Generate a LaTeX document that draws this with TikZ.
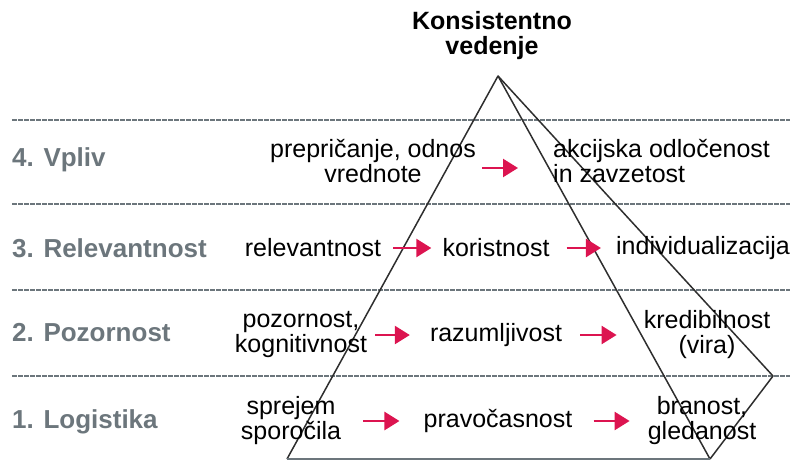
\documentclass[tikz,border=0pt]{standalone}
\usepackage{fontspec}
\setmainfont{Liberation Sans}
\usetikzlibrary{arrows.meta}

\definecolor{levelgrey}{HTML}{6C767C}
\definecolor{arrowred}{HTML}{DC1450}
\definecolor{edgegrey}{HTML}{2E2E2E}

\begin{document}
\begin{tikzpicture}[
  x=1pt, y=-1pt,
  every node/.style={inner sep=0pt, text=black, font=\fontsize{25}{25}\selectfont}, % plain text nodes
  level/.style={anchor=west, text=levelgrey, font=\fontsize{26}{26}\selectfont\bfseries}, % left level labels
  sepline/.style={draw=levelgrey, line width=2.2pt, dash pattern=on 5pt off 1pt}, % dotted separators
  edge/.style={draw=edgegrey, line width=1.5pt, line join=round},
  arr/.style={draw=arrowred, line width=2.5pt, -{Triangle[length=15pt,width=18pt]}}
]
\useasboundingbox (0,0) rectangle (794,460);

% Separators between levels
\foreach \yy in {120,204,290,376}
  \draw[sepline] (12,\yy) -- (790,\yy);

% Pyramid and tilted box
\coordinate (apex) at (498,76);
\coordinate (bl) at (287,459);
\coordinate (br) at (710,459);
\coordinate (rc) at (773,376);
\draw[edge] (bl) -- (apex) -- (br);
\draw[edge] (apex) -- (rc) -- (br);
\draw[draw=levelgrey, line width=1.5pt] (bl) -- (br);

% Top
\node[align=center, font=\fontsize{25}{25}\selectfont\bfseries] (top) at (492,36) {Konsistentno\\vedenje};

% Level labels
\node[level] (l4) at (12,160) {4. Vpliv};
\node[level] (l3) at (12,248) {3. Relevantnost};
\node[level] (l2) at (12,333) {2. Pozornost};
\node[level] (l1) at (12,422) {1. Logistika};

% Level 4
\node[align=center] (pre) at (373,161) {prepričanje, odnos\\vrednote};
\node[align=left, anchor=west] (akc) at (553,161) {akcijska odločenost\\in zavzetost};
% Level 3
\node (rel) at (313,248) {relevantnost};
\node (kor) at (496,248) {koristnost};
\node (ind) at (703,248) {individualizacija};
% Level 2
\node[align=center] (poz) at (301,335) {pozornost,\\kognitivnost};
\node (raz) at (496,335) {razumljivost};
\node[align=center] (kre) at (707,335) {kredibilnost\\(vira)};
% Level 1
\node[align=center] (spr) at (291,421) {sprejem\\sporočila};
\node (pra) at (498,421) {pravočasnost};
\node[align=center] (bra) at (702,421) {branost,\\gledanost};

% Arrows
\draw[arr] ([xshift=6pt,yshift=-7pt]pre.east) -- ([xshift=-35pt,yshift=-7pt]akc.west);
\draw[arr] ([xshift=12pt]rel.east) -- ([xshift=-11pt]kor.west);
\draw[arr] ([xshift=17pt]kor.east) -- ([xshift=-15pt]ind.west);
\draw[arr] ([xshift=8pt]poz.east) -- ([xshift=-20pt]raz.west);
\draw[arr] ([xshift=18pt]raz.east) -- ([xshift=-27pt]kre.west);
\draw[arr] ([xshift=22pt]spr.east) -- ([xshift=-24pt]pra.west);
\draw[arr] ([xshift=21pt]pra.east) -- ([xshift=-18pt]bra.west);

\end{tikzpicture}
\end{document}
